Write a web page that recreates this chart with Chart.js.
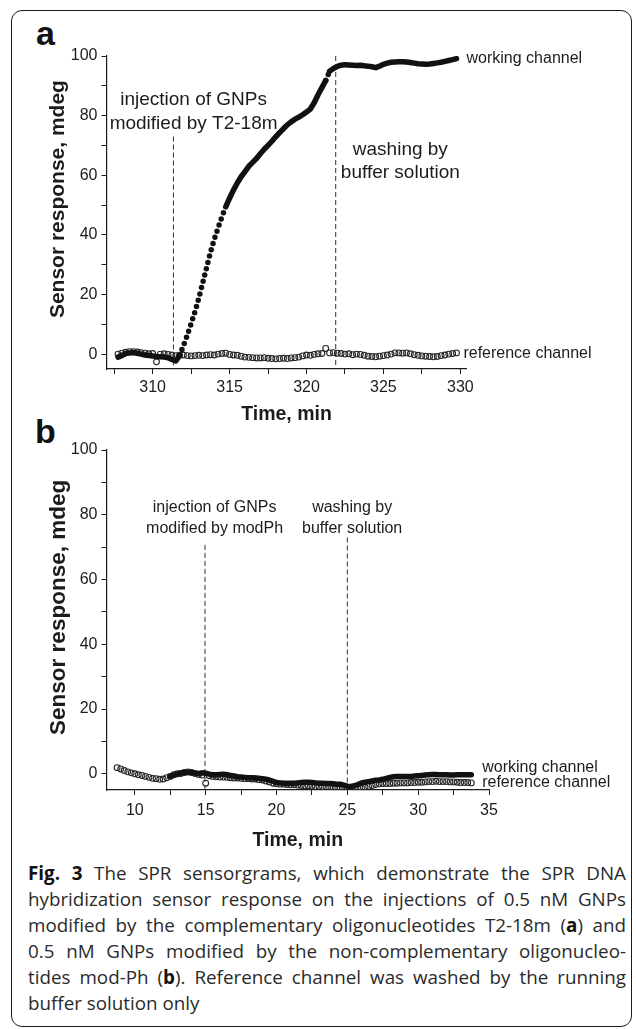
<!DOCTYPE html>
<html>
<head>
<meta charset="utf-8">
<script src="https://cdn.jsdelivr.net/npm/chart.js@4.4.0/dist/chart.umd.min.js"></script>
<style>
  html, body { margin: 0; padding: 0; background: #fff; }
  body { width: 636px; height: 1029px; position: relative; overflow: hidden; }
  .frame { position: absolute; left: 11px; top: 10px; width: 621px; height: 1017px; box-sizing: border-box;
           border: 1.8px solid #1a1a1a; border-radius: 11px; }
  .letter { position: absolute; font: bold 34px "Liberation Sans", Arial, sans-serif; line-height: 34px; color: #111; }
  .panel { position: absolute; left: 0; }
  .caption { position: absolute; left: 28px; top: 860px; width: 598px; font-family: "Open Sans", "Noto Sans", sans-serif;
             font-size: 18.8px; line-height: 26px; color: #2a2a2a; }
  .caption div { text-align: justify; text-align-last: justify; }
  .caption div.last { text-align-last: left; }
  .caption b { color: #111; }
</style>
</head>
<body>
<div class="frame"></div>
<div class="letter" style="left:36px; top:16px;">a</div>
<div class="letter" style="left:35px; top:414px;">b</div>
<div class="panel" style="top:0;"><canvas id="chartA" width="636" height="430"></canvas></div>
<div class="panel" style="top:430px;"><canvas id="chartB" width="636" height="430"></canvas></div>
<div class="caption">
  <div><b>Fig.&nbsp;3</b> The SPR sensorgrams, which demonstrate the SPR DNA</div>
  <div>hybridization sensor response on the injections of 0.5 nM GNPs</div>
  <div>modified by the complementary oligonucleotides T2-18m (<b>a</b>) and</div>
  <div>0.5 nM GNPs modified by the non-complementary oligonucleo-</div>
  <div>tides mod-Ph (<b>b</b>). Reference channel was washed by the running</div>
  <div class="last">buffer solution only</div>
</div>
<script>
// panel a: time, min
const timeA = [
  307.75, 308, 308.25, 308.5, 308.75, 309, 309.25, 309.5, 309.75,
  310, 310.25, 310.5, 310.75, 311, 311.25, 311.5, 311.75,
  312, 312.25, 312.5, 312.75, 313, 313.25, 313.5, 313.75,
  314, 314.25, 314.5, 314.75, 315, 315.25, 315.5, 315.75,
  316, 316.25, 316.5, 316.75, 317, 317.25, 317.5, 317.75,
  318, 318.25, 318.5, 318.75, 319, 319.25, 319.5, 319.75,
  320, 320.25, 320.5, 320.75, 321, 321.25, 321.5, 321.75,
  322, 322.25, 322.5, 322.75, 323, 323.25, 323.5, 323.75,
  324, 324.25, 324.5, 324.75, 325, 325.25, 325.5, 325.75,
  326, 326.25, 326.5, 326.75, 327, 327.25, 327.5, 327.75,
  328, 328.25, 328.5, 328.75, 329, 329.25, 329.5, 329.75
];
// panel a: sensor response, mdeg
const workingA = [
  -1.0, -0.5, 0.2, 0.4, 0.5, 0.3, 0.0, -0.3, -0.5,
  -0.6, -0.8, -0.9, -1.0, -1.2, -1.8, -2.3, -0.5,
  2.8, 6.3, 10.2, 14.2, 18.8, 23.8, 28.9, 34.0,
  38.4, 42.3, 46.0, 49.4, 52.3, 55.0, 57.4, 59.5,
  61.2, 63.0, 64.3, 65.6, 67.2, 68.7, 70.0, 71.4,
  72.9, 74.3, 75.6, 76.9, 77.9, 78.8, 79.5, 80.3,
  81.2, 82.2, 84.3, 87.0, 89.4, 91.8, 94.9, 95.8,
  96.5, 96.9, 97.1, 97.0, 96.9, 96.8, 96.9, 96.7,
  96.6, 96.4, 96.1, 96.6, 97.2, 97.6, 97.9, 98.0,
  98.1, 98.1, 98.0, 97.8, 97.6, 97.4, 97.3, 97.2,
  97.3, 97.5, 97.7, 97.9, 98.2, 98.5, 98.8, 99.1
];
const referenceA = [
  0.0, 0.3, 0.6, 0.8, 0.8, 0.7, 0.5, 0.3, 0.1,
  0.2, -2.6, 0.0, 0.1, -0.1, -0.3, -0.5, -0.4,
  -0.3, -0.5, -0.6, -0.5, -0.4, -0.5, -0.3, -0.2,
  -0.3, 0.0, 0.2, 0.3, -0.1, -0.3, -0.4, -0.7,
  -1.0, -1.1, -1.2, -1.3, -1.3, -1.2, -1.4, -1.5,
  -1.6, -1.5, -1.4, -1.5, -1.3, -1.2, -1.0, -0.6,
  -0.3, -0.4, -0.1, 0.1, 0.2, 1.9, 0.4, 0.5,
  0.3, 0.2, 0.0, 0.1, -0.2, 0.0, -0.1, -0.4,
  -0.7, -0.8, -0.9, -0.7, -0.5, -0.3, 0.0, 0.4,
  0.4, 0.3, 0.4, 0.1, -0.2, -0.4, -0.6, -0.7,
  -0.8, -0.9, -0.8, -0.5, -0.3, 0.0, 0.2, 0.4
];
const markerTimesA = [311.35, 321.9];   // injection, washing
const markerTopsA = [73, 100];

// panel b
const timeB = [
  8.75, 9, 9.25, 9.5, 9.75,
  10, 10.25, 10.5, 10.75, 11, 11.25, 11.5, 11.75,
  12, 12.25, 12.5, 12.75, 13, 13.25, 13.5, 13.75,
  14, 14.25, 14.5, 14.75, 15, 15.25, 15.5, 15.75,
  16, 16.25, 16.5, 16.75, 17, 17.25, 17.5, 17.75,
  18, 18.25, 18.5, 18.75, 19, 19.25, 19.5, 19.75,
  20, 20.25, 20.5, 20.75, 21, 21.25, 21.5, 21.75,
  22, 22.25, 22.5, 22.75, 23, 23.25, 23.5, 23.75,
  24, 24.25, 24.5, 24.75, 25, 25.25, 25.5, 25.75,
  26, 26.25, 26.5, 26.75, 27, 27.25, 27.5, 27.75,
  28, 28.25, 28.5, 28.75, 29, 29.25, 29.5, 29.75,
  30, 30.25, 30.5, 30.75, 31, 31.25, 31.5, 31.75,
  32, 32.25, 32.5, 32.75, 33, 33.25, 33.5, 33.75
];
const workingB = [
  null, null, null, null, null,
  null, null, null, null, null, null, null, null,
  null, null, -0.8, -0.4, -0.1, 0.2, 0.4, 0.5,
  0.4, 0.2, 0.1, 0.3, 0.2, -0.1, -0.3, -0.3,
  -0.2, -0.1, -0.3, -0.5, -0.7, -0.9, -1.0, -1.1,
  -1.2, -1.2, -1.3, -1.4, -1.5, -1.7, -1.9, -2.3,
  -2.7, -2.8, -2.9, -2.9, -2.9, -2.9, -2.8, -2.7,
  -2.6, -2.6, -2.7, -2.8, -2.9, -2.9, -3.0, -3.0,
  -3.1, -3.2, -3.2, -3.5, -3.8, -3.9, -3.7, -3.3,
  -2.8, -2.6, -2.4, -2.2, -2.0, -1.9, -1.7, -1.4,
  -1.1, -0.9, -0.8, -0.8, -0.8, -0.8, -0.8, -0.7,
  -0.6, -0.5, -0.4, -0.3, -0.2, -0.2, -0.3, -0.3,
  -0.3, -0.4, -0.4, -0.3, -0.3, -0.3, -0.3, -0.3
];
const referenceB = [
  1.9, 1.5, 1.0, 0.6, 0.3,
  0.0, -0.3, -0.5, -0.8, -1.1, -1.4, -1.5, -1.7,
  -1.6, -1.2, -0.8, -0.3, 0.0, 0.1, 0.4, 0.6,
  0.4, 0.1, -0.2, -0.4, -2.9, -0.6, -0.8, -0.9,
  -1.0, -1.0, -1.1, -1.2, -1.3, -1.3, -1.4, -1.5,
  -1.5, -1.6, -1.6, -1.8, -1.9, -2.2, -2.5, -2.9,
  -3.1, -3.2, -3.2, -3.3, -3.4, -3.4, -3.5, -3.6,
  -3.7, -3.7, -3.8, -3.9, -3.9, -4.0, -4.1, -4.2,
  -4.3, -4.4, -4.5, -4.6, -4.7, -4.7, -4.6, -4.5,
  -4.4, -4.2, -3.9, -3.6, -3.3, -3.1, -3.0, -3.0,
  -3.0, -2.9, -2.9, -2.8, -2.8, -2.8, -2.7, -2.7,
  -2.6, -2.6, -2.5, -2.4, -2.4, -2.3, -2.4, -2.4,
  -2.4, -2.5, -2.5, -2.6, -2.7, -2.7, -2.7, -2.8
];
const markerTimesB = [14.95, 25.0];
const markerTopsB = [70.7, 73];

const SANS = '"Liberation Sans", Arial, Helvetica, sans-serif';
const INK = '#1c1c1c';

const pts = (xs, ys) => xs.map((x, i) => ({ x: x, y: ys[i] }));

// axis titles and in-plot notes
const figureText = {
  id: 'figureText',
  afterDraw(chart, args, o) {
    const { ctx, chartArea: ca, scales: { x, y } } = chart;
    ctx.save();
    ctx.fillStyle = INK;

    ctx.save();
    ctx.font = `bold ${o.yTitleSize}px ${SANS}`;
    ctx.translate(ca.left - o.yTitleGap, y.getPixelForValue(o.yTitleAt));
    ctx.rotate(-Math.PI / 2);
    ctx.textAlign = 'center';
    ctx.textBaseline = 'alphabetic';
    ctx.fillText('Sensor response, mdeg', 0, 0);
    ctx.restore();

    ctx.font = `bold 19.5px ${SANS}`;
    ctx.textAlign = 'center';
    ctx.textBaseline = 'alphabetic';
    ctx.fillText('Time, min', (ca.left + ca.right) / 2, ca.bottom + o.xTitleGap);

    o.notes.forEach(n => {
      ctx.font = `${n.size}px ${SANS}`;
      ctx.textAlign = n.align || 'center';
      ctx.textBaseline = 'middle';
      ctx.fillText(n.text, x.getPixelForValue(n.x), y.getPixelForValue(n.y));
    });
    ctx.restore();
  }
};

function axisStyle() {
  return {
    grid: { display: true, drawOnChartArea: false, drawTicks: true, tickLength: 5, color: INK, tickColor: INK, lineWidth: 1 },
    border: { display: true, color: INK, width: 1.2 }
  };
}

// steep stretches of the sensorgram show as separate dots, like the sampled trace
const steep = ctx => (Math.abs(ctx.p1.parsed.y - ctx.p0.parsed.y) > 3 ? [0, 6.5] : undefined);

function buildChart(canvasId, cfg) {
  const H = 430;
  const markerSets = cfg.markers.map((t, i) => ({
    label: 'marker',
    data: [{ x: t, y: cfg.markerTops[i] }, { x: t, y: cfg.yMin }],
    showLine: true,
    borderColor: '#333',
    borderWidth: 1,
    borderDash: [5, 3],
    pointRadius: 0
  }));

  return new Chart(document.getElementById(canvasId), {
    type: 'scatter',
    data: {
      datasets: [
        {
          label: 'working channel',
          data: pts(cfg.time, cfg.working),
          showLine: true,
          spanGaps: false,
          borderColor: '#111',
          borderWidth: 5.5,
          borderCapStyle: 'round',
          borderJoinStyle: 'round',
          segment: { borderDash: steep },
          pointRadius: 0
        },
        {
          label: 'reference channel',
          data: pts(cfg.time, cfg.reference),
          showLine: false,
          borderColor: '#262626',
          pointRadius: 2.9,
          pointBorderWidth: 1.1,
          pointBorderColor: '#262626',
          pointBackgroundColor: 'rgba(255,255,255,0)'
        },
        ...markerSets
      ]
    },
    options: {
      responsive: false,
      animation: false,
      devicePixelRatio: 1,
      layout: { padding: { top: cfg.area.top, right: 636 - cfg.area.right, left: 0, bottom: 0 } },
      plugins: {
        legend: { display: false },
        tooltip: { enabled: false },
        figureText: cfg.text
      },
      scales: {
        x: {
          type: 'linear',
          min: cfg.xMin,
          max: cfg.xMax,
          afterFit: s => { s.height = H - cfg.area.bottom; },
          ticks: {
            stepSize: 2.5,
            includeBounds: false,
            autoSkip: false,
            maxRotation: 0,
            padding: cfg.xTickPad,
            color: INK,
            font: { family: SANS, size: 16 },
            callback: v => (v % 5 === 0 ? String(v) : '')
          },
          ...axisStyle()
        },
        y: {
          type: 'linear',
          min: cfg.yMin,
          max: 100,
          afterFit: s => { s.width = cfg.area.left; },
          ticks: {
            stepSize: 10,
            includeBounds: false,
            autoSkip: false,
            padding: 4,
            color: INK,
            font: { family: SANS, size: 16 },
            callback: v => (v % 20 === 0 ? String(v) : '')
          },
          ...axisStyle()
        }
      }
    },
    plugins: [figureText]
  });
}

buildChart('chartA', {
  time: timeA, working: workingA, reference: referenceA,
  markers: markerTimesA, markerTops: markerTopsA,
  xMin: 307, xMax: 330.4, yMin: -5,
  area: { left: 106.5, right: 466.5, top: 56, bottom: 369 },
  xTickPad: 4,
  text: {
    yTitleSize: 21, yTitleGap: 42.5, yTitleAt: 52, xTitleGap: 51,
    notes: [
      { text: 'injection of GNPs', x: 312.66, y: 85.2, size: 19 },
      { text: 'modified by T2-18m', x: 312.66, y: 77.2, size: 19 },
      { text: 'washing by', x: 326.1, y: 68.5, size: 19 },
      { text: 'buffer solution', x: 326.1, y: 60.7, size: 19 },
      { text: 'working channel', x: 330.4, y: 99.0, size: 16, align: 'left' },
      { text: 'reference channel', x: 330.2, y: 0.3, size: 16, align: 'left' }
    ]
  }
});

buildChart('chartB', {
  time: timeB, working: workingB, reference: referenceB,
  markers: markerTimesB, markerTops: markerTopsB,
  xMin: 8, xMax: 35, yMin: -5,
  area: { left: 106.5, right: 489, top: 20, bottom: 360 },
  xTickPad: 6,
  text: {
    yTitleSize: 22.5, yTitleGap: 42, yTitleAt: 51.4, xTitleGap: 56,
    notes: [
      { text: 'injection of GNPs', x: 15.63, y: 82.1, size: 16 },
      { text: 'modified by modPh', x: 15.63, y: 75.6, size: 16 },
      { text: 'washing by', x: 25.34, y: 82.1, size: 16 },
      { text: 'buffer solution', x: 25.34, y: 75.6, size: 16 },
      { text: 'working channel', x: 34.52, y: 1.85, size: 16, align: 'left' },
      { text: 'reference channel', x: 34.52, y: -2.78, size: 16, align: 'left' }
    ]
  }
});
</script>
</body>
</html>
